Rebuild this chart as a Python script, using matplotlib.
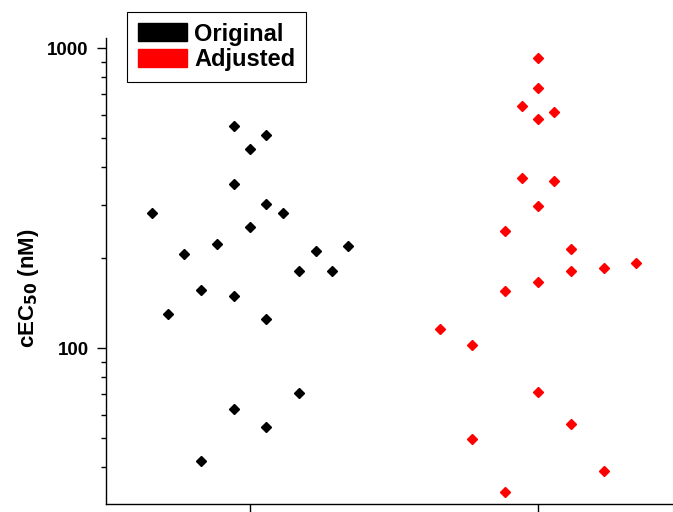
import matplotlib
matplotlib.use("Agg")
import matplotlib.pyplot as plt
from matplotlib.patches import Patch
from matplotlib.ticker import FixedLocator, NullFormatter, FixedFormatter

plt.rcParams['font.family'] = ['Liberation Sans', 'DejaVu Sans']

# 列の位置 (1 = Original, 2 = Adjusted) とずらし量 (step 単位)
original_offset = [-1, 1, 0, -1, 1, 2, -6, 0, -2, 6, 4, -4, 3, 5, -3, -1, -5, 1, 3, -1, 1, -3]
original_values = [550, 514, 459, 351, 302, 282, 281, 253, 222, 218, 211, 205, 180, 180,
                   156, 149, 130, 125, 70.8, 62.5, 54.5, 42.0]

adjusted_offset = [0, 0, -1, 1, 0, -1, 1, 0, -2, 2, 6, 4, 2, 0, -2, -6, -4, 0, 2, -4, 4, -2]
adjusted_values = [925, 735, 641, 612, 580, 370, 361, 297, 245, 214, 192, 185, 181, 166,
                   155, 116, 102, 71.2, 55.7, 49.9, 39.0, 33.0]

step = 0.057
labels = ['Original', 'Adjusted']
colors = ['black', 'red']

fig = plt.figure(figsize=(6.73, 5.12), dpi=100)
# 右端は画像からはみ出す (元画像がトリミングされている)
ax = fig.add_axes([106 / 673, 8 / 512, 576 / 673, 466 / 512])

ax.plot([1 + k * step for k in original_offset], original_values, 'D',
        color=colors[0], markersize=5.6, linestyle='none')
ax.plot([2 + k * step for k in adjusted_offset], adjusted_values, 'D',
        color=colors[1], markersize=5.6, linestyle='none')

ax.set_yscale('log')
ax.set_ylim(30.2, 1080)
ax.set_xlim(0.5, 2.5)

ax.yaxis.set_major_locator(FixedLocator([100, 1000]))
ax.yaxis.set_major_formatter(FixedFormatter(['100', '1000']))
ax.yaxis.set_minor_locator(FixedLocator([40, 50, 60, 70, 80, 90,
                                         200, 300, 400, 500, 600, 700, 800, 900]))
ax.yaxis.set_minor_formatter(NullFormatter())
ax.tick_params(axis='y', which='major', direction='out', length=6.5, width=1,
               labelsize=13.5, pad=6)
ax.tick_params(axis='y', which='minor', direction='out', length=3.5, width=1)
for t in ax.get_yticklabels():
    t.set_fontweight('bold')

ax.set_xticks([1, 2])
ax.set_xticklabels(['', ''])
ax.tick_params(axis='x', direction='out', length=8, width=1)

ax.spines['top'].set_visible(False)
ax.spines['right'].set_visible(False)
ax.spines['left'].set_linewidth(1)
ax.spines['bottom'].set_linewidth(1)

ax.set_ylabel('cEC$_{\\mathbf{50}}$ (nM)', fontsize=16, fontweight='bold')
ax.yaxis.set_label_coords(-0.112, 0.464)

# 凡例 (塗りつぶし四角)
handles = [Patch(facecolor=c, edgecolor=c) for c in colors]
leg = fig.legend(handles, labels, loc='upper left',
                 bbox_to_anchor=(127 / 673, 1 - 12 / 512), borderaxespad=0,
                 fancybox=False, edgecolor='black', framealpha=1,
                 prop={'weight': 'bold', 'size': 17},
                 handlelength=2.1, handleheight=0.8, handletextpad=0.3,
                 labelspacing=0.12, borderpad=0.45)
leg.get_frame().set_linewidth(0.8)

plt.savefig('out.png', dpi=100)
